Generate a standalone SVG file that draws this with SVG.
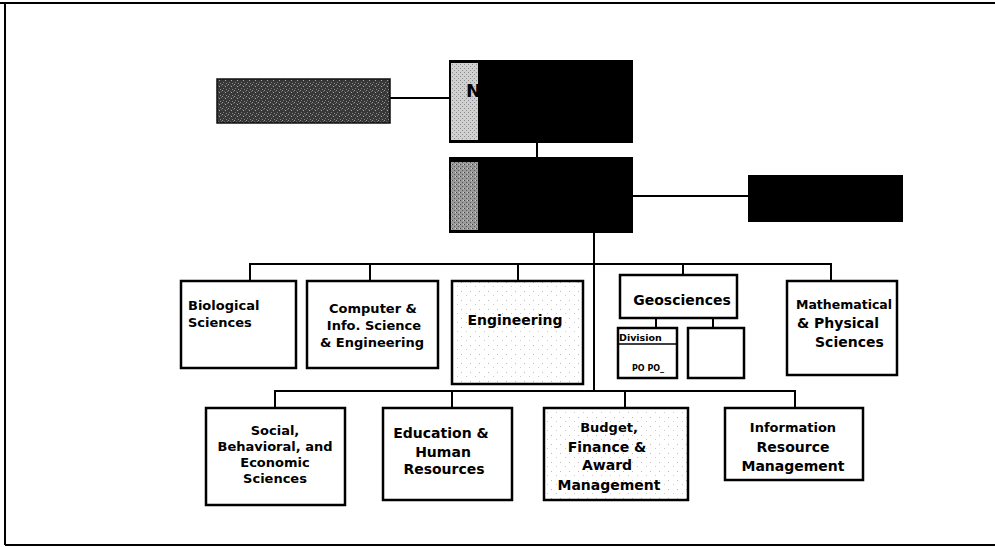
<svg xmlns="http://www.w3.org/2000/svg" width="995" height="547" viewBox="0 0 995 547">
<style>
.box{fill:#fff;stroke:#000;stroke-width:2.5}
.spk{fill:url(#speck);stroke:#000;stroke-width:2.5}
.ln{fill:none;stroke:#000;stroke-width:2}
.t{font-family:"DejaVu Sans","Verdana",sans-serif;font-weight:bold;font-size:13px;fill:#000}
.t14{font-size:14px}
.c{text-anchor:middle}
</style>
<defs>
<pattern id="dark" width="6" height="6" patternUnits="userSpaceOnUse">
<rect width="6" height="6" fill="#383838"/>
<rect x="0" y="0" width="1" height="1" fill="#9a9a9a"/>
<rect x="3" y="2" width="1" height="1" fill="#aaa"/>
<rect x="1" y="4" width="1" height="1" fill="#7a7a7a"/>
<rect x="4" y="5" width="1" height="1" fill="#8a8a8a"/>
<rect x="5" y="1" width="1" height="1" fill="#6a6a6a"/>
<rect x="2" y="1" width="1" height="1" fill="#5a5a5a"/>
</pattern>
<pattern id="light" width="4" height="4" patternUnits="userSpaceOnUse">
<rect width="4" height="4" fill="#d0d0d0"/>
<rect x="0" y="0" width="1" height="1" fill="#8a8a8a"/>
<rect x="2" y="2" width="1" height="1" fill="#909090"/>
</pattern>
<pattern id="mid" width="4" height="4" patternUnits="userSpaceOnUse">
<rect width="4" height="4" fill="#9a9a9a"/>
<rect x="0" y="0" width="1" height="1" fill="#444"/>
<rect x="2" y="2" width="1" height="1" fill="#555"/>
<rect x="3" y="0" width="1" height="1" fill="#ccc"/>
</pattern>
<pattern id="speck" width="9" height="9" patternUnits="userSpaceOnUse">
<rect width="9" height="9" fill="#fff"/>
<rect x="2" y="3" width="1" height="1" fill="#bbb"/>
<rect x="7" y="7" width="1" height="1" fill="#ccc"/>
</pattern>
</defs>
<g id="frame">
<path d="M0,3 H995 M5,3 V545 M5,545 H995" fill="none" stroke="#000" stroke-width="2"/>
</g>
<g id="connectors">
<path class="ln" d="M390,98 H449"/>
<path class="ln" d="M537,143 V157"/>
<path class="ln" d="M633,196 H748"/>
<path class="ln" d="M594,233 V391"/>
<path class="ln" d="M250,281 V264 H831 V281"/>
<path class="ln" d="M370,264 V281 M518,264 V281 M683,264 V275"/>
<path class="ln" d="M656,318 V328 M713,318 V328"/>
<path class="ln" d="M275,408 V391 H795 V408"/>
<path class="ln" d="M452,391 V408 M625,391 V408"/>
</g>
<g id="node-advisory">
<rect x="217" y="79" width="173" height="44" fill="url(#dark)" stroke="#111" stroke-width="1.5"/>
</g>
<g id="node-top">
<rect x="449" y="60" width="184" height="83" fill="#000"/>
<rect x="451" y="63" width="27" height="77" fill="url(#light)"/>
<text x="466" y="97" class="t" style="font-size:18px">N</text>
</g>
<g id="node-director">
<rect x="449" y="157" width="184" height="76" fill="#000"/>
<rect x="451" y="162" width="27" height="68" fill="url(#mid)"/>
</g>
<g id="node-right">
<rect x="748" y="175" width="155" height="47" fill="#000"/>
</g>
<g id="node-bio">
<rect class="box" x="181" y="281" width="115" height="87"/>
<text class="t" x="188" y="310">Biological</text>
<text class="t" x="188" y="327">Sciences</text>
</g>
<g id="node-cise">
<rect class="box" x="307" y="281" width="131" height="87"/>
<text class="t c" x="373" y="313">Computer &amp;</text>
<text class="t c" x="374" y="330">Info. Science</text>
<text class="t c" x="372" y="347">&amp; Engineering</text>
</g>
<g id="node-eng">
<rect class="spk" x="452" y="281" width="131" height="103"/>
<text class="t t14 c" x="515" y="325">Engineering</text>
</g>
<g id="node-geo">
<rect class="box" x="620" y="275" width="117" height="43"/>
<text class="t t14 c" x="682" y="305">Geosciences</text>
</g>
<g id="node-division">
<rect class="box" x="618" y="328" width="59" height="50"/>
<path d="M619,344 H676" stroke="#000" stroke-width="1.5"/>
<text class="t" x="619" y="341" style="font-size:9.5px">Division</text>
<text class="t" x="632" y="371" style="font-size:8px">PO PO_</text>
</g>
<g id="node-geo2">
<rect class="box" x="688" y="328" width="56" height="50"/>
</g>
<g id="node-math">
<rect class="box" x="787" y="281" width="110" height="94"/>
<text class="t" x="796" y="309" style="font-size:12.5px">Mathematical</text>
<text class="t t14" x="797" y="328">&amp; Physical</text>
<text class="t t14" x="815" y="347">Sciences</text>
</g>
<g id="node-sbe">
<rect class="box" x="206" y="408" width="139" height="97"/>
<text class="t c" x="275" y="435">Social,</text>
<text class="t c" x="275" y="451">Behavioral, and</text>
<text class="t c" x="275" y="467">Economic</text>
<text class="t c" x="275" y="483">Sciences</text>
</g>
<g id="node-ehr">
<rect class="box" x="383" y="408" width="129" height="92"/>
<text class="t t14 c" x="441" y="438">Education &amp;</text>
<text class="t t14 c" x="443" y="457">Human</text>
<text class="t t14 c" x="444" y="474">Resources</text>
</g>
<g id="node-bfa">
<rect class="spk" x="544" y="408" width="144" height="92"/>
<text class="t c" x="609" y="432">Budget,</text>
<text class="t t14 c" x="607" y="452">Finance &amp;</text>
<text class="t t14 c" x="607" y="470">Award</text>
<text class="t t14 c" x="609" y="490">Management</text>
</g>
<g id="node-irm">
<rect class="box" x="725" y="408" width="138" height="72"/>
<text class="t c" x="793" y="432">Information</text>
<text class="t t14 c" x="793" y="452">Resource</text>
<text class="t t14 c" x="793" y="471">Management</text>
</g>
</svg>
